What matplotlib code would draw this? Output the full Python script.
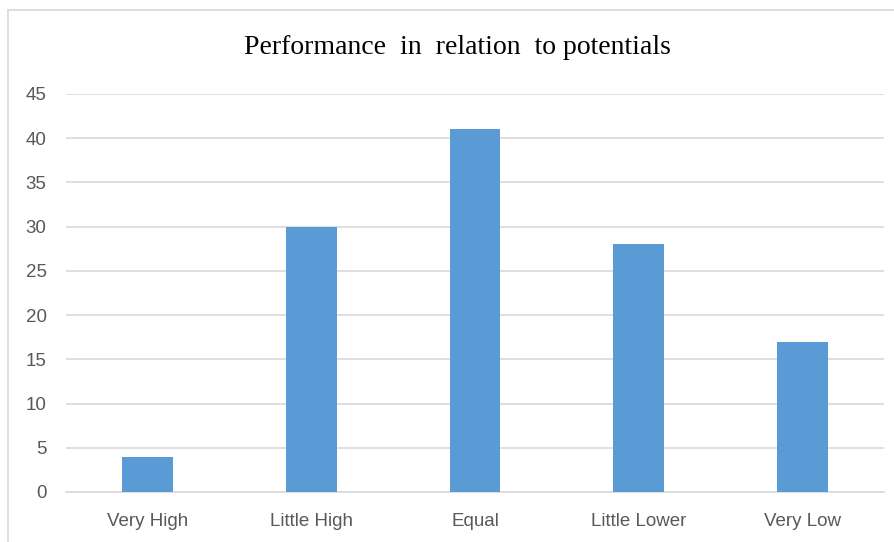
import matplotlib
matplotlib.use('Agg')
import matplotlib.pyplot as plt
from matplotlib.lines import Line2D

categories = ['Very High', 'Little High', 'Equal', 'Little Lower', 'Very Low']
values = [4, 30, 41, 28, 17]
yticks = [0, 5, 10, 15, 20, 25, 30, 35, 40, 45]

W, H = 894, 542
fig = plt.figure(figsize=(W / 100, H / 100), dpi=100)
ax = fig.add_axes([66 / W, 1 - 492 / H, (884 - 66) / W, (492 - 94) / H])

x = range(len(categories))
ax.bar(x, values, width=0.31, color='#5B9BD5', zorder=3)

ax.set_xlim(-0.5, len(categories) - 0.5)
ax.set_ylim(0, 45)
ax.set_yticks(yticks)
ax.set_xticks(list(x))
ax.set_xticklabels(categories)
ax.yaxis.grid(True, color='#D9D9D9', linewidth=1.2, zorder=0)
for s in ['top', 'right', 'left']:
    ax.spines[s].set_visible(False)
ax.spines['bottom'].set_color('#D9D9D9')
ax.spines['bottom'].set_linewidth(1.2)
ax.tick_params(length=0, labelsize=13.5, labelcolor='#595959')
ax.tick_params(axis='y', pad=14)
ax.tick_params(axis='x', pad=15)
for lab in ax.get_xticklabels() + ax.get_yticklabels():
    lab.set_family('Liberation Sans')

fig.text(457 / W, 1 - 47 / H, 'Performance  in  relation  to potentials',
         ha='center', va='center', fontsize=20, family='Liberation Serif',
         color='#000000')

# chart border (left and top visible)
fig.add_artist(Line2D([7.5 / W, 7.5 / W], [0, 1 - 9.5 / H],
                      transform=fig.transFigure, color='#D9D9D9', linewidth=1.2))
fig.add_artist(Line2D([7.5 / W, 1], [1 - 9.5 / H, 1 - 9.5 / H],
                      transform=fig.transFigure, color='#D9D9D9', linewidth=1.2))

fig.savefig('out.png', dpi=100)
